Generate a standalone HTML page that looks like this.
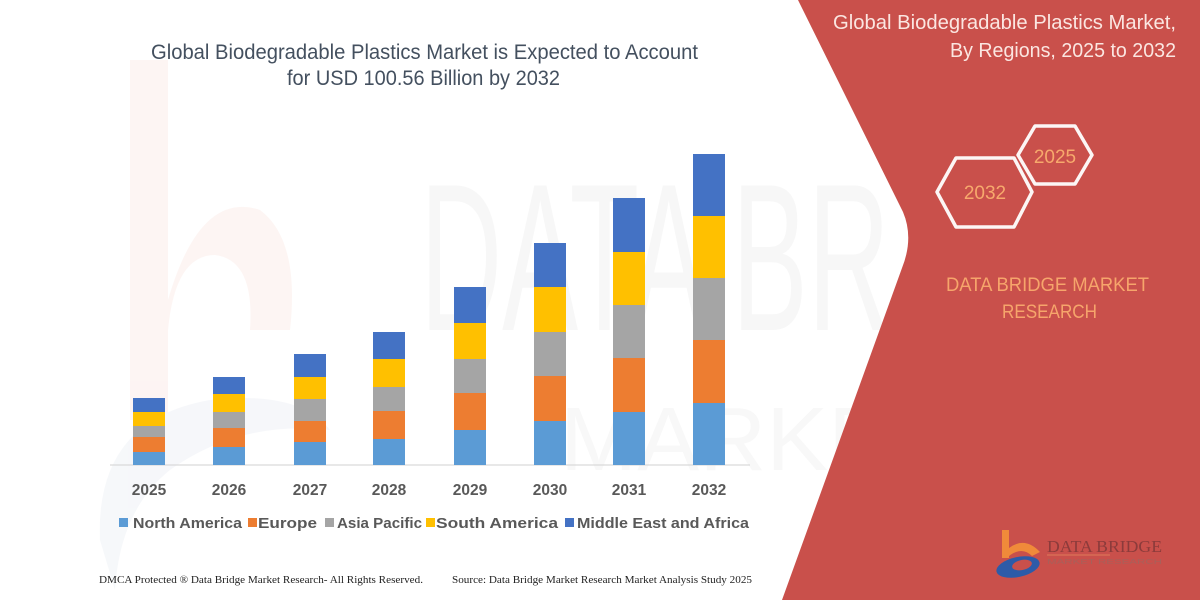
<!DOCTYPE html>
<html><head><meta charset="utf-8"><style>
html,body{margin:0;padding:0;background:#fff;}
svg{display:block;}
</style></head><body>
<svg width="1200" height="600" viewBox="0 0 1200 600" xmlns="http://www.w3.org/2000/svg">
<rect width="1200" height="600" fill="#ffffff"/>
<!-- faint watermarks -->
<g opacity="0.5">
<path d="M130 60 L168 60 L168 300 Q200 190 260 210 Q300 240 290 330 L250 330 Q255 260 215 255 Q175 255 168 330 L168 420 L130 420 Z" fill="#fcebe8"/>
<path d="M100 540 Q95 420 210 400 Q300 390 330 430 Q240 420 170 470 Q120 510 115 590 Z" fill="#eef1f6"/>
</g>
<text x="420" y="330" font-family="Liberation Sans, sans-serif" font-size="210" fill="#f7f7f7" textLength="470" lengthAdjust="spacingAndGlyphs">DATA BR</text>
<text x="560" y="470" font-family="Liberation Sans, sans-serif" font-size="90" fill="#f8f8f8" textLength="330" lengthAdjust="spacingAndGlyphs">MARKE</text>

<!-- red panel -->
<path d="M798 0 L903 212 Q914 238 902 268 L782 600 L1200 600 L1200 0 Z" fill="#C9504B"/>

<!-- main title -->
<g font-family="Liberation Sans, sans-serif" font-size="21" fill="#44505F">
<text x="151" y="59" textLength="547" lengthAdjust="spacingAndGlyphs">Global Biodegradable Plastics Market is Expected to Account</text>
<text x="287" y="85" textLength="273" lengthAdjust="spacingAndGlyphs">for USD 100.56 Billion by 2032</text>
</g>

<!-- axis line -->
<line x1="110" y1="465" x2="750" y2="465" stroke="#d9d9d9" stroke-width="1.2"/>

<!-- bars -->
<g>
<rect x="133" y="398" width="32" height="14" fill="#4472C4"/>
<rect x="133" y="412" width="32" height="14" fill="#FFC000"/>
<rect x="133" y="426" width="32" height="11" fill="#A5A5A5"/>
<rect x="133" y="437" width="32" height="15" fill="#ED7D31"/>
<rect x="133" y="452" width="32" height="13" fill="#5B9BD5"/>

<rect x="213" y="377" width="32" height="17" fill="#4472C4"/>
<rect x="213" y="394" width="32" height="18" fill="#FFC000"/>
<rect x="213" y="412" width="32" height="16" fill="#A5A5A5"/>
<rect x="213" y="428" width="32" height="19" fill="#ED7D31"/>
<rect x="213" y="447" width="32" height="18" fill="#5B9BD5"/>

<rect x="294" y="354" width="32" height="23" fill="#4472C4"/>
<rect x="294" y="377" width="32" height="22" fill="#FFC000"/>
<rect x="294" y="399" width="32" height="22" fill="#A5A5A5"/>
<rect x="294" y="421" width="32" height="21" fill="#ED7D31"/>
<rect x="294" y="442" width="32" height="23" fill="#5B9BD5"/>

<rect x="373" y="332" width="32" height="27" fill="#4472C4"/>
<rect x="373" y="359" width="32" height="28" fill="#FFC000"/>
<rect x="373" y="387" width="32" height="24" fill="#A5A5A5"/>
<rect x="373" y="411" width="32" height="28" fill="#ED7D31"/>
<rect x="373" y="439" width="32" height="26" fill="#5B9BD5"/>

<rect x="454" y="287" width="32" height="36" fill="#4472C4"/>
<rect x="454" y="323" width="32" height="36" fill="#FFC000"/>
<rect x="454" y="359" width="32" height="34" fill="#A5A5A5"/>
<rect x="454" y="393" width="32" height="37" fill="#ED7D31"/>
<rect x="454" y="430" width="32" height="35" fill="#5B9BD5"/>

<rect x="534" y="243" width="32" height="44" fill="#4472C4"/>
<rect x="534" y="287" width="32" height="45" fill="#FFC000"/>
<rect x="534" y="332" width="32" height="44" fill="#A5A5A5"/>
<rect x="534" y="376" width="32" height="45" fill="#ED7D31"/>
<rect x="534" y="421" width="32" height="44" fill="#5B9BD5"/>

<rect x="613" y="198" width="32" height="54" fill="#4472C4"/>
<rect x="613" y="252" width="32" height="53" fill="#FFC000"/>
<rect x="613" y="305" width="32" height="53" fill="#A5A5A5"/>
<rect x="613" y="358" width="32" height="54" fill="#ED7D31"/>
<rect x="613" y="412" width="32" height="53" fill="#5B9BD5"/>

<rect x="693" y="154" width="32" height="62" fill="#4472C4"/>
<rect x="693" y="216" width="32" height="62" fill="#FFC000"/>
<rect x="693" y="278" width="32" height="62" fill="#A5A5A5"/>
<rect x="693" y="340" width="32" height="63" fill="#ED7D31"/>
<rect x="693" y="403" width="32" height="62" fill="#5B9BD5"/>
</g>

<!-- year labels -->
<g font-family="Liberation Sans, sans-serif" font-size="15.5" font-weight="bold" fill="#595959" text-anchor="middle">
<text x="149" y="495">2025</text>
<text x="229" y="495">2026</text>
<text x="310" y="495">2027</text>
<text x="389" y="495">2028</text>
<text x="470" y="495">2029</text>
<text x="550" y="495">2030</text>
<text x="629" y="495">2031</text>
<text x="709" y="495">2032</text>
</g>

<!-- legend -->
<g font-family="Liberation Sans, sans-serif" font-size="15" font-weight="bold" fill="#595959">
<rect x="119" y="518" width="9" height="9" fill="#5B9BD5"/>
<text x="133" y="528" textLength="109" lengthAdjust="spacingAndGlyphs">North America</text>
<rect x="248" y="518" width="9" height="9" fill="#ED7D31"/>
<text x="258" y="528" textLength="59" lengthAdjust="spacingAndGlyphs">Europe</text>
<rect x="325" y="518" width="9" height="9" fill="#A5A5A5"/>
<text x="337" y="528" textLength="85" lengthAdjust="spacingAndGlyphs">Asia Pacific</text>
<rect x="426" y="518" width="9" height="9" fill="#FFC000"/>
<text x="436" y="528" textLength="122" lengthAdjust="spacingAndGlyphs">South America</text>
<rect x="565" y="518" width="9" height="9" fill="#4472C4"/>
<text x="577" y="528" textLength="172" lengthAdjust="spacingAndGlyphs">Middle East and Africa</text>
</g>

<!-- footer -->
<g font-family="Liberation Serif, serif" font-size="10.5" fill="#222">
<text x="99" y="583" textLength="324" lengthAdjust="spacingAndGlyphs">DMCA Protected ® Data Bridge Market Research- All Rights Reserved.</text>
<text x="452" y="583" textLength="300" lengthAdjust="spacingAndGlyphs">Source: Data Bridge Market Research Market Analysis Study 2025</text>
</g>

<!-- right panel title -->
<g font-family="Liberation Sans, sans-serif" font-size="20" fill="#FBE6E1">
<text x="833" y="29" textLength="343" lengthAdjust="spacingAndGlyphs">Global Biodegradable Plastics Market,</text>
<text x="950" y="57" textLength="226" lengthAdjust="spacingAndGlyphs">By Regions, 2025 to 2032</text>
</g>

<!-- hexagons -->
<g fill="none" stroke="#FFFFFF" stroke-width="3.5" stroke-linejoin="round" opacity="0.95">
<polygon points="937,192 956,158 1014,158 1032,192 1014,227 956,227"/>
<polygon points="1018,155 1035,126 1075,126 1092,155 1075,184 1035,184"/>
</g>
<g font-family="Liberation Sans, sans-serif" font-size="19" fill="#F7A96C" text-anchor="middle">
<text x="985" y="199">2032</text>
<text x="1055" y="163">2025</text>
</g>

<!-- DATA BRIDGE MARKET RESEARCH -->
<g font-family="Liberation Sans, sans-serif" font-size="19.5" fill="#F6A56B">
<text x="946" y="291" textLength="203" lengthAdjust="spacingAndGlyphs">DATA BRIDGE MARKET</text>
<text x="1002" y="318" textLength="95" lengthAdjust="spacingAndGlyphs">RESEARCH</text>
</g>

<!-- bottom-right logo -->
<g>
<rect x="1002" y="530" width="7" height="28" fill="#F08A3A"/>
<path d="M1009 548 Q1025 536 1040 552 L1032 556 Q1022 546 1009 556 Z" fill="#F08A3A"/>
<ellipse cx="1018" cy="567" rx="22" ry="10" fill="#2D5BA8" transform="rotate(-12 1018 567)"/>
<ellipse cx="1022" cy="565" rx="10" ry="5" fill="#C9504B" transform="rotate(-12 1022 565)"/>
<text x="1047" y="552" font-family="Liberation Serif, serif" font-size="17" fill="#8C3B3B" textLength="115" lengthAdjust="spacingAndGlyphs">DATA BRIDGE</text>
<line x1="1047" y1="555" x2="1110" y2="555" stroke="#E07A5A" stroke-width="1"/>
<text x="1047" y="564" font-family="Liberation Sans, sans-serif" font-size="7" fill="#A8605A" textLength="115" lengthAdjust="spacingAndGlyphs">MARKET RESEARCH</text>
</g>
</svg>
</body></html>
